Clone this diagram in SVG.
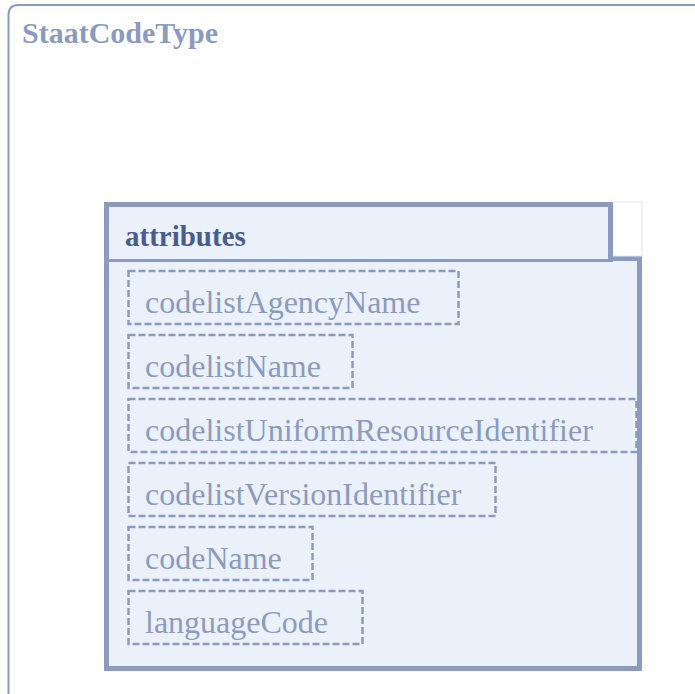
<svg xmlns="http://www.w3.org/2000/svg" width="695" height="694" viewBox="0 0 695 694">
<style>
.frame{fill:#ffffff;stroke:#8c9bbd;stroke-width:2}
.title{font-family:"Liberation Serif","Times New Roman",serif;font-weight:bold;font-size:30px;fill:#8c9bbd}
.hdr{font-family:"Liberation Serif","Times New Roman",serif;font-weight:bold;font-size:29px;fill:#4b5b8c}
.item{font-family:"Liberation Serif","Times New Roman",serif;font-size:32px;fill:#8c9bbd}
.box{fill:none;stroke:#8c9bbd;stroke-width:2.5;stroke-dasharray:7 3}
.thick{fill:#eaf1fb;stroke:#8c9bbd;stroke-width:5}
</style>
<g id="StaatCodeType">
<path class="frame" d="M8.5,700 V15 Q8.5,5 18.5,5 H700"/>
<text class="title" x="22" y="43">StaatCodeType</text>
</g>
<g id="attributes">
<rect x="106.5" y="258.5" width="533" height="410" class="thick"/>
<rect x="613" y="202" width="29" height="54" fill="#ffffff" stroke="#e3e7ef" stroke-width="1"/>
<path d="M106.5,259 V204.5 H610.5 V259" class="thick"/>
<line x1="104" y1="260.5" x2="613" y2="260.5" stroke="#8c9bbd" stroke-width="3"/>
<text class="hdr" x="125" y="246">attributes</text>
</g>
<g id="codelistAgencyName">
<rect class="box" x="128.5" y="271" width="330" height="53"/>
<text class="item" x="145" y="313">codelistAgencyName</text>
</g>
<g id="codelistName">
<rect class="box" x="128.5" y="335" width="224" height="53"/>
<text class="item" x="145" y="377">codelistName</text>
</g>
<g id="codelistUniformResourceIdentifier">
<rect class="box" x="128.5" y="399" width="508" height="53"/>
<text class="item" x="145" y="441">codelistUniformResourceIdentifier</text>
</g>
<g id="codelistVersionIdentifier">
<rect class="box" x="128.5" y="463" width="367" height="53"/>
<text class="item" x="145" y="505">codelistVersionIdentifier</text>
</g>
<g id="codeName">
<rect class="box" x="128.5" y="527" width="184" height="53"/>
<text class="item" x="145" y="569">codeName</text>
</g>
<g id="languageCode">
<rect class="box" x="128.5" y="591" width="234" height="53"/>
<text class="item" x="145" y="633">languageCode</text>
</g>
<g id="connectors"/>
</svg>
